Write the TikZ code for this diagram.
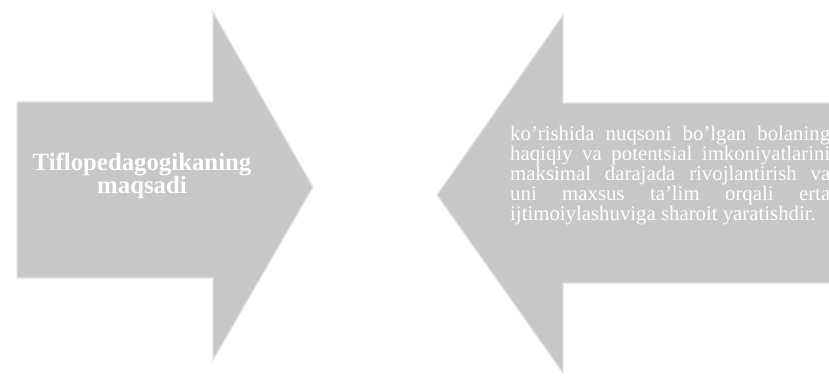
\documentclass[tikz,border=0pt]{standalone}
\usepackage{fontspec}
\setmainfont{Liberation Serif}
\begin{document}
\begin{tikzpicture}[x=1pt,y=1pt,
  arrowbody/.style={fill=arrowgrey, draw=rimgrey, line width=1.2pt, line join=miter},
  lefttxt/.style={text=white, font=\fontsize{24.8}{21}\selectfont\bfseries, align=center, inner sep=0pt},
  righttxt/.style={text=white, font=\fontsize{20.8}{18.2}\selectfont, text width=320pt, align=justify, inner sep=0pt}]
\definecolor{arrowgrey}{RGB}{199,199,199}
\definecolor{rimgrey}{RGB}{228,228,228}
\useasboundingbox (0,0) rectangle (829,375);
\fill[white] (0,0) rectangle (829,375);
\clip (0,0) rectangle (829,375);
% left arrow pointing right
\draw[arrowbody] (17,273) -- (213,273) -- (213,363) -- (313,188) -- (213,15) -- (213,97) -- (17,97) -- cycle;
% right arrow pointing left
\draw[arrowbody] (845,272) -- (563,272) -- (563,360) -- (437,180) -- (563,2) -- (563,92) -- (845,92) -- cycle;
\node[lefttxt] (goal) at (142,199) {Tiflopedagogikaning\\maqsadi};
\node[righttxt, anchor=north west] (def) at (510,249) {ko'rishida nuqsoni bo'lgan bolaning\linebreak haqiqiy va potentsial imkoniyatlarini\linebreak maksimal darajada rivojlantirish va\linebreak uni maxsus ta'lim orqali erta\linebreak ijtimoiylashuviga sharoit yaratishdir.};
\end{tikzpicture}
\end{document}
